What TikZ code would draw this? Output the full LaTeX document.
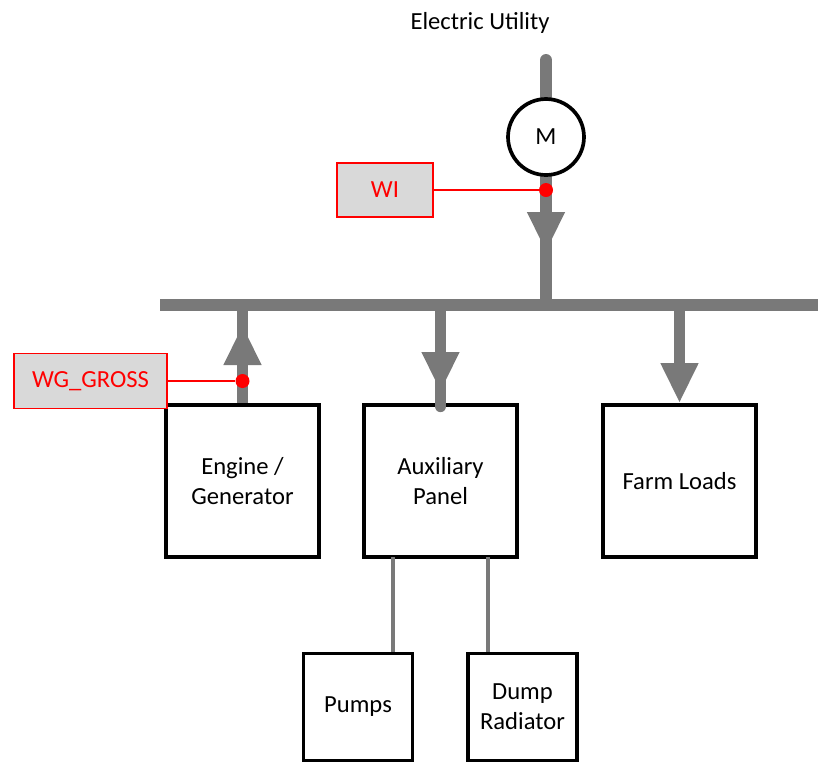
\documentclass[tikz,border=0pt]{standalone}
\usepackage{fontspec}
\setmainfont{Carlito}
\usetikzlibrary{arrows.meta}
\tikzset{
  feed/.style={draw=gray!95!black, line width=6.8pt},
  head/.style={-{Triangle[width=0.7cm,length=0.8cm]}},
  load/.style={draw, line width=2.1pt, minimum width=3.06cm, minimum height=3.04cm, align=center, inner sep=0pt},
  small/.style={load, minimum width=2.18cm, minimum height=2.14cm},
  tag/.style={draw=red, fill=black!15, line width=1.1pt, text=red, inner sep=0pt},
  tap/.style={fill=red, circle, inner sep=0pt, minimum size=0.28cm}
}
\begin{document}
\begin{tikzpicture}[x=0.02cm,y=-0.02cm,font=\fontsize{14}{17}\selectfont]
            \useasboundingbox (0,0) rectangle (818,762);
            \node (util) at (480,23) {Electric Utility};
            \coordinate (top) at (546,60);
            \coordinate (busL) at (160,305);
            \coordinate (busR) at (818,305);
            % loads
            \node[load] (engine) at (242.5,481) {Engine /\\Generator};
            \node[load] (aux) at (440.5,481) {Auxiliary\\Panel};
            \node[load] (farm) at (679.5,481) {Farm Loads};
            \node[small] (pumps) at (358,707) {Pumps};
            \node[small] (dump) at (522.5,707) {Dump\\Radiator};
            % bus and feeds
            \draw[feed] (busL) -- (busR);
            \draw[feed, line cap=round] (top) -- (top |- busL);
            \draw[feed, head] (top) -- (546,252);
            \draw[feed] (engine.north) -- (engine.north |- busL);
            \draw[feed, head] (engine.north) -- (242.5,325);
            \draw[feed, line cap=round] (aux.north |- busL) -- ([yshift=-0.06cm]aux.north);
            \draw[feed, head] (aux.north |- busL) -- (440.5,392);
            \draw[feed, head] (farm.north |- busL) -- (farm.north);
            \draw[gray!95!black, line width=2.2pt] (393,557) -- (pumps.north -| 393,0);
            \draw[gray!95!black, line width=2.2pt] (488,557) -- (dump.north -| 488,0);
            % meter
            \node[draw, circle, line width=2.1pt, fill=white, minimum size=1.52cm, inner sep=0pt] (meter) at (546,137) {M};
            % measurement points
            \node[tag, minimum width=1.92cm, minimum height=1.08cm] (wi) at (385,190) {WI};
            \node[tag, minimum width=3.06cm, minimum height=1.1cm] (wg) at (90.5,381) {WG\_GROSS};
            \node[tap] (wiP) at (546,190) {};
            \node[tap] (wgP) at (242.5,381) {};
            \draw[red, line width=1.1pt] (wi) -- (wiP);
            \draw[red, line width=1.1pt] (wg) -- (wgP);
        \end{tikzpicture}
\end{document}
